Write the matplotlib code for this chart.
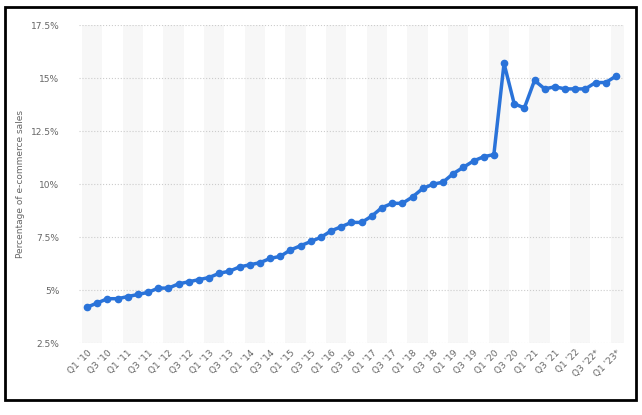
import matplotlib
matplotlib.use("Agg")
import matplotlib.pyplot as plt
from matplotlib.patches import Rectangle

values = [4.2,4.4,4.6,4.6,4.7,4.8,4.9,5.1,5.1,5.3,5.4,5.5,5.6,5.8,5.9,6.1,6.2,6.3,6.5,6.6,
          6.9,7.1,7.3,7.5,7.8,8.0,8.2,8.2,8.5,8.9,9.1,9.1,9.4,9.8,10.0,10.1,10.5,10.8,11.1,11.3,
          11.4,15.7,13.8,13.6,14.9,14.5,14.6,14.5,14.5,14.5,14.8,14.8,15.1]
tick_labels = ["Q1 '10","Q3 '10","Q1 '11","Q3 '11","Q1 '12","Q3 '12","Q1 '13","Q3 '13",
               "Q1 '14","Q3 '14","Q1 '15","Q3 '15","Q1 '16","Q3 '16","Q1 '17","Q3 '17",
               "Q1 '18","Q3 '18","Q1 '19","Q3 '19","Q1 '20","Q3 '20","Q1 '21","Q3 '21",
               "Q1 '22","Q3 '22*","Q1 '23*"]
y_ticks = [2.5, 5, 7.5, 10, 12.5, 15, 17.5]
y_labels = ["2.5%", "5%", "7.5%", "10%", "12.5%", "15%", "17.5%"]

fig = plt.figure(figsize=(6.42, 4.15), dpi=100)
fig.patches.append(Rectangle((0.008, 0.035), 0.982, 0.948, transform=fig.transFigure,
                             fill=False, edgecolor='black', linewidth=2))
ax = fig.add_axes([0.123, 0.173, 0.849, 0.766])
x = list(range(len(values)))
for k in range(0, len(values), 4):
    ax.axvspan(k - 0.5, k + 1.5, color='#f7f7f7', zorder=0, lw=0)
ax.plot(x, values, color='#2a73d9', lw=2.5, marker='o', ms=4.5, zorder=3)
ax.set_xlim(-0.8, len(values) - 0.2)
ax.set_ylim(2.5, 17.5)
ax.set_yticks(y_ticks)
ax.set_yticklabels(y_labels)
ax.set_xticks(x[::2])
ax.set_xticklabels(tick_labels, rotation=45, ha='right', rotation_mode='anchor')
ax.grid(axis='y', color='#cccccc', linestyle=':', lw=0.8)
ax.set_axisbelow(True)
for s in ax.spines.values():
    s.set_visible(False)
ax.tick_params(length=0, labelsize=6.5, colors='#666666')
ax.tick_params(axis='y', pad=14)
ax.set_ylabel("Percentage of e-commerce sales", fontsize=6.5, color='#666666')
fig.savefig("out.png", dpi=100)
